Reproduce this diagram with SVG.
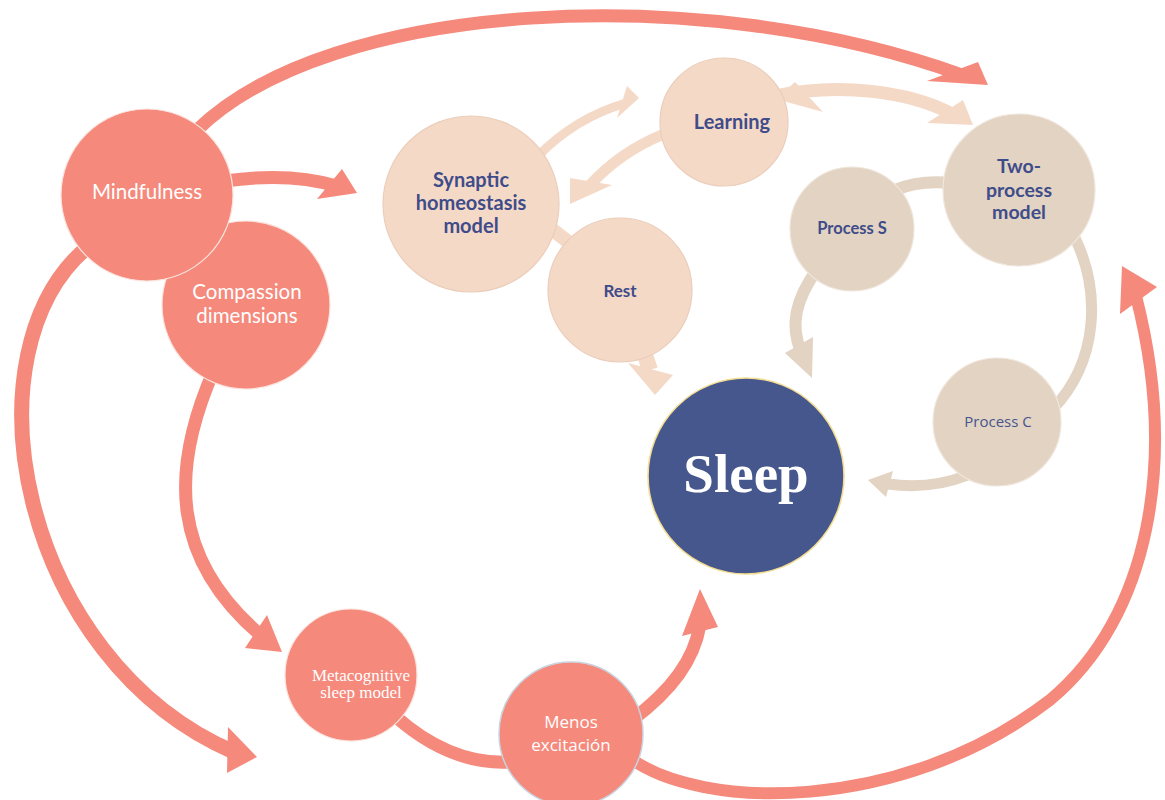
<svg xmlns="http://www.w3.org/2000/svg" width="1165" height="800" viewBox="0 0 1165 800">
  <style>
    .bg { fill: #FFFFFF; }
    .salmon-line { fill: none; stroke: #F5897C; stroke-linecap: butt; }
    .salmon-head { fill: #F5897C; }
    .peach-line { fill: none; stroke: #F5D9C7; stroke-linecap: butt; }
    .peach-head { fill: #F5D9C7; }
    .beige-line { fill: none; stroke: #E2D3C2; stroke-linecap: butt; }
    .beige-head { fill: #E2D3C2; }
    .n-salmon { fill: #F5897C; stroke: #FBE3DE; stroke-width: 1.2; }
    .n-peach { fill: #F5D9C7; stroke: #EBCDBA; stroke-width: 1.2; }
    .n-beige { fill: #E2D3C2; stroke: #EFE6DC; stroke-width: 1.2; }
    .n-sleep { fill: #45578C; stroke: #F3DD92; stroke-width: 1.6; }
    .t-white { fill: #FFFFFF; font-family: Lato, "Open Sans", sans-serif; text-anchor: middle; }
    .t-navy { fill: #3F4C8A; font-family: Lato, "Open Sans", sans-serif; font-weight: bold; text-anchor: middle; }
    .t-serif { fill: #FFFFFF; font-family: "Liberation Serif", serif; text-anchor: middle; }
    .t-calibri { font-family: "Open Sans", "Liberation Sans", sans-serif; text-anchor: middle; }
  </style>

  <rect class="bg" x="0" y="0" width="1165" height="800"/>

  <g id="connectors">
    <!-- Mindfulness → top sweep to the two-process side -->
    <path class="salmon-line" stroke-width="13" d="M 197,130 C 330,0 700,-20 962,75"/>
    <polygon class="salmon-head" points="978,62 988,85 927,81"/>

    <!-- Mindfulness → synaptic homeostasis -->
    <path class="salmon-line" stroke-width="13" d="M 225,181 Q 290,172 336,186"/>
    <polygon class="salmon-head" points="342,169 357,193 317,199"/>

    <!-- Mindfulness → big left sweep down to the metacognitive row -->
    <path class="salmon-line" stroke-width="15" d="M 90,245 C -40,350 20,660 234,752"/>
    <polygon class="salmon-head" points="228,727 257,757 227,773"/>

    <!-- Compassion → metacognitive sleep model -->
    <path class="salmon-line" stroke-width="13" d="M 214,370 C 170,470 170,560 264,638"/>
    <polygon class="salmon-head" points="267,615 282,652 245,648"/>

    <!-- Metacognitive → menos excitación -->
    <path class="salmon-line" stroke-width="13" d="M 395,716 Q 450,765 510,762"/>

    <!-- Menos excitación → sleep -->
    <path class="salmon-line" stroke-width="13" d="M 632,720 C 672,690 694,660 700,625"/>
    <polygon class="salmon-head" points="700,589 718,627 682,636"/>

    <!-- Menos excitación → wide sweep up the right side -->
    <path class="salmon-line" stroke-width="12" d="M 630,758 C 700,810 900,815 1050,700 C 1150,617 1178,460 1136,296"/>
    <polygon class="salmon-head" points="1122,266 1157,287 1120,314"/>

    <!-- synaptic ↔ learning -->
    <path class="peach-line" stroke-width="9" d="M 538,156 Q 575,118 626,103"/>
    <polygon class="peach-head" points="627,86 639,98 617,118"/>
    <path class="peach-line" stroke-width="11" d="M 664,134 Q 620,152 590,185"/>
    <polygon class="peach-head" points="570,178 612,185 570,204"/>

    <!-- learning ↔ two-process -->
    <path class="peach-line" stroke-width="13" d="M 775,96 C 840,82 910,92 950,113"/>
    <polygon class="peach-head" points="963,100 973,125 927,123"/>
    <polygon class="peach-head" points="795,82 823,112 776,99"/>

    <!-- synaptic — rest, rest → sleep -->
    <path class="peach-line" stroke-width="14" d="M 535,216 L 590,259"/>
    <path class="peach-line" stroke-width="16" d="M 640,340 L 650,370"/>
    <polygon class="peach-head" points="628,363 673,375 655,395"/>

    <!-- two-process — process S, process S → sleep -->
    <path class="beige-line" stroke-width="12" d="M 950,183 Q 920,180 895,190"/>
    <path class="beige-line" stroke-width="12" d="M 818,268 C 795,300 790,325 801,352"/>
    <polygon class="beige-head" points="785,353 813,337 812,378"/>

    <!-- two-process — process C, process C → sleep -->
    <path class="beige-line" stroke-width="11" d="M 1075,238 C 1100,290 1100,360 1052,410"/>
    <path class="beige-line" stroke-width="11" d="M 968,475 Q 930,490 888,484"/>
    <polygon class="beige-head" points="893,471 868,480 886,497"/>
  </g>

  <g id="node-compassion">
    <circle class="n-salmon" cx="246" cy="305" r="84"/>
    <text class="t-white" x="247" y="299" font-size="20.5">Compassion</text>
    <text class="t-white" x="247" y="323" font-size="20.5">dimensions</text>
  </g>

  <g id="node-mindfulness">
    <circle class="n-salmon" cx="147" cy="195" r="86"/>
    <text class="t-white" x="147" y="199" font-size="20.5">Mindfulness</text>
  </g>

  <g id="node-synaptic">
    <circle class="n-peach" cx="471" cy="204" r="88"/>
    <text class="t-navy" x="471" y="187" font-size="20">Synaptic</text>
    <text class="t-navy" x="471" y="210" font-size="20">homeostasis</text>
    <text class="t-navy" x="471" y="233" font-size="20">model</text>
  </g>

  <g id="node-learning">
    <circle class="n-peach" cx="724" cy="122" r="64"/>
    <text class="t-navy" x="732" y="129" font-size="20">Learning</text>
  </g>

  <g id="node-rest">
    <circle class="n-peach" cx="620" cy="290" r="72"/>
    <text class="t-navy" x="620" y="297" font-size="17">Rest</text>
  </g>

  <g id="node-two-process">
    <circle class="n-beige" cx="1019" cy="190" r="76"/>
    <text class="t-navy" x="1019" y="173" font-size="19.5">Two-</text>
    <text class="t-navy" x="1019" y="197" font-size="19.5">process</text>
    <text class="t-navy" x="1019" y="219" font-size="19.5">model</text>
  </g>

  <g id="node-process-s">
    <circle class="n-beige" cx="852" cy="229" r="62"/>
    <text class="t-navy" x="852" y="234" font-size="16.5">Process S</text>
  </g>

  <g id="node-process-c">
    <circle class="n-beige" cx="997" cy="422" r="64"/>
    <text class="t-calibri" x="998" y="427" font-size="15" fill="#46558F">Process C</text>
  </g>

  <g id="node-sleep">
    <circle class="n-sleep" cx="746" cy="476" r="98"/>
    <text class="t-serif" x="746" y="492" font-size="55" font-weight="bold">Sleep</text>
  </g>

  <g id="node-metacognitive">
    <circle class="n-salmon" cx="351" cy="675" r="66" stroke="none"/>
    <text class="t-serif" x="361" y="681" font-size="17">Metacognitive</text>
    <text class="t-serif" x="361" y="698" font-size="17">sleep model</text>
  </g>

  <g id="node-menos">
    <circle cx="571" cy="734" r="72" fill="#F5897C" stroke="#C9D3DE" stroke-width="1.5"/>
    <text class="t-calibri" x="571" y="728" font-size="17" fill="#FFFFFF">Menos</text>
    <text class="t-calibri" x="571" y="751" font-size="17" fill="#FFFFFF">excitación</text>
  </g>
</svg>
